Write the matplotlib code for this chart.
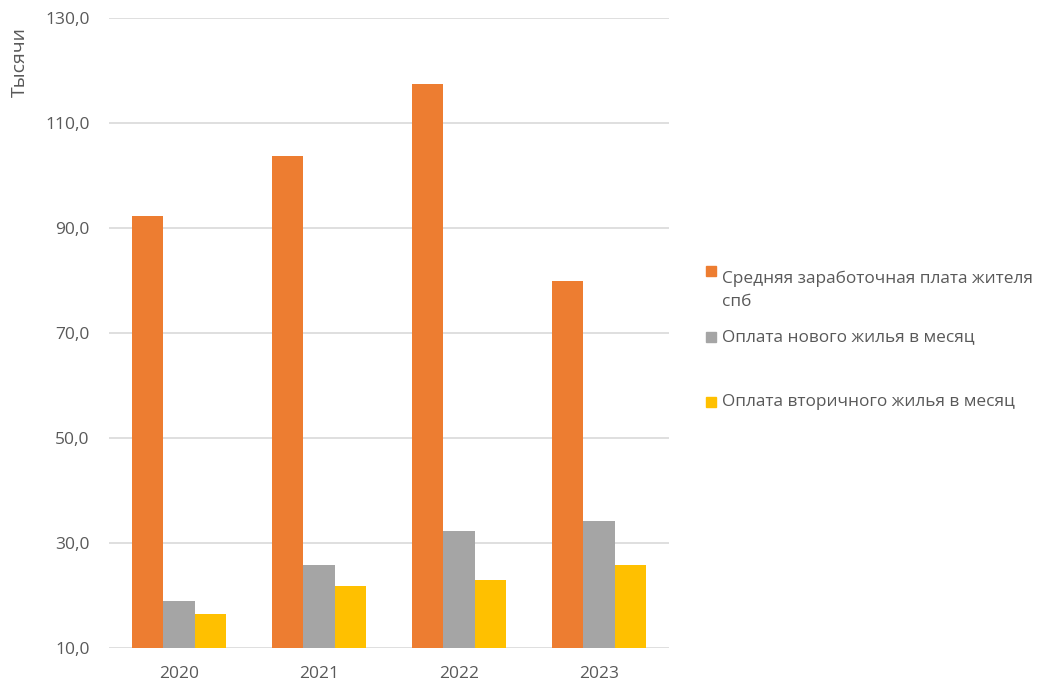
import numpy as np
import matplotlib.pyplot as plt
from matplotlib.patches import Rectangle
from matplotlib.ticker import FuncFormatter

plt.rcParams['font.family'] = ['Open Sans', 'DejaVu Sans']

# data (thousands of rubles)
years = ['2020', '2021', '2022', '2023']
salary = [92.3, 103.7, 117.4, 80.0]
new_housing = [18.9, 25.8, 32.2, 34.1]
second_housing = [16.5, 21.9, 22.9, 25.8]

series_labels = ['Средняя заработочная плата жителя\nспб',
                 'Оплата нового жилья в месяц',
                 'Оплата вторичного жилья в месяц']
colors = ['#ED7D31', '#A5A5A5', '#FFC000']
text_color = '#595959'

fig = plt.figure(figsize=(10.4, 6.84), dpi=100)
ax = fig.add_axes([109 / 1040, 36 / 684, 560 / 1040, 630 / 684])

x = np.arange(len(years))
w = 0.222
for i, vals in enumerate([salary, new_housing, second_housing]):
    ax.bar(x + (i - 1) * w, np.array(vals) - 10, width=w, bottom=10,
           color=colors[i], zorder=3)

ax.set_xlim(-0.5, len(years) - 0.5)
ax.set_ylim(10, 130)
ax.set_yticks(np.arange(10, 131, 20))
ax.yaxis.set_major_formatter(FuncFormatter(lambda v, p: f'{v:.1f}'.replace('.', ',')))
ax.set_xticks(x)
ax.set_xticklabels(years)
ax.grid(axis='y', color='#D9D9D9', linewidth=1.2, zorder=0)
for s in ax.spines.values():
    s.set_visible(False)
ax.tick_params(axis='both', length=0, labelsize=12.5, labelcolor=text_color)
ax.tick_params(axis='y', pad=14)
ax.tick_params(axis='x', pad=13)

fig.text(20 / 1040, 1 - 27 / 684, 'Тысячи', rotation=90, ha='center', va='top',
         fontsize=14, color=text_color)

# legend on the right
legend_y = [271, 337, 402]
for lbl, c, yc in zip(series_labels, colors, legend_y):
    fig.patches.append(Rectangle((706 / 1040, 1 - (yc + 5) / 684), 10 / 1040, 10 / 684,
                                 transform=fig.transFigure, color=c))
    fig.text(722 / 1040, 1 - yc / 684, lbl, ha='left', va='top' if '\n' in lbl else 'center',
             fontsize=12.4, color=text_color, linespacing=1.55)

fig.savefig('out.png', dpi=100)
